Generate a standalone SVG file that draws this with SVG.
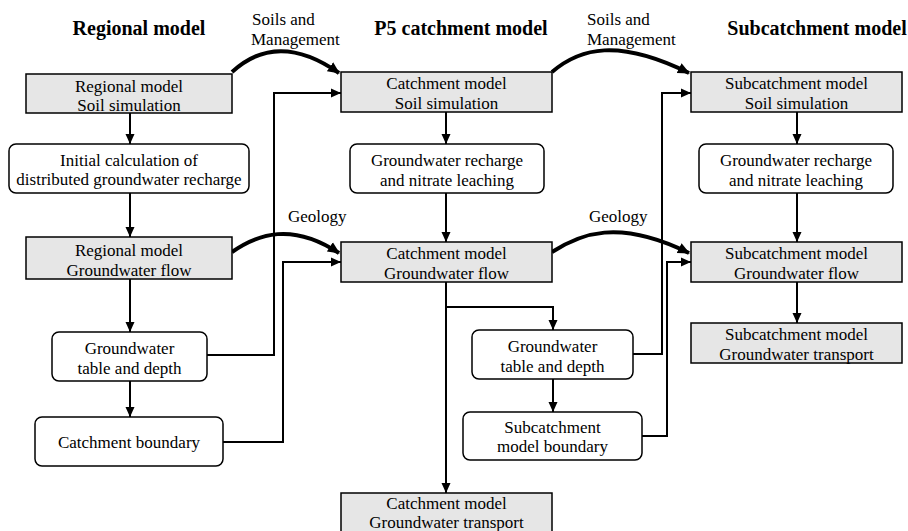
<svg xmlns="http://www.w3.org/2000/svg" width="908" height="531" viewBox="0 0 908 531">
  <defs>
    <style>
      text { font-family: "Liberation Serif", "Times New Roman", Times, Tinos, "DejaVu Serif", serif; fill: #000; }
      .title { font-size: 20px; font-weight: bold; text-anchor: middle; }
      .lbl { font-size: 17px; text-anchor: middle; }
      .tag { font-size: 17px; }
      .model { fill: #e6e6e6; stroke: #000; stroke-width: 1.5; }
      .step { fill: #fff; stroke: #000; stroke-width: 1.5; }
      .link { fill: none; stroke: #000; stroke-width: 2; marker-end: url(#head); }
      .bend { fill: none; stroke: #000; stroke-width: 2; marker-end: url(#head); stroke-linejoin: miter; }
      .transfer { fill: none; stroke: #000; stroke-width: 4; marker-end: url(#bighead); }
    </style>
    <marker id="head" markerUnits="userSpaceOnUse" markerWidth="10" markerHeight="10" viewBox="0 0 10 10" refX="10" refY="5" orient="auto">
      <path d="M0,0.5 L10,5 L0,9.5 Z" fill="#000"/>
    </marker>
    <marker id="bighead" markerUnits="userSpaceOnUse" markerWidth="12" markerHeight="12" viewBox="0 0 12 12" refX="11" refY="6" orient="auto">
      <path d="M0,0.5 L12,6 L0,11.5 Z" fill="#000"/>
    </marker>
  </defs>

  <rect width="908" height="531" fill="#fff"/>

  <!-- column titles -->
  <g id="titles" font-family="Liberation Serif, serif">
    <text class="title" x="139" y="35">Regional model</text>
    <text class="title" x="461" y="35">P5 catchment model</text>
    <text class="title" x="817" y="35">Subcatchment model</text>
  </g>

  <!-- connectors -->
  <g id="connectors">
    <!-- regional column -->
    <line class="link" x1="130" y1="113" x2="130" y2="144"/>
    <line class="link" x1="130" y1="193" x2="130" y2="237"/>
    <line class="link" x1="130" y1="279" x2="130" y2="332"/>
    <line class="link" x1="130" y1="381" x2="130" y2="417"/>
    <path class="bend" d="M207,355 H274 V93 H341"/>
    <path class="bend" d="M223,442 H283 V262 H341"/>

    <!-- catchment column -->
    <line class="link" x1="446" y1="112" x2="446" y2="144"/>
    <line class="link" x1="446" y1="193" x2="446" y2="242"/>
    <line class="link" x1="446" y1="282" x2="446" y2="493"/>
    <path class="bend" d="M446,307 H553 V330"/>
    <line class="link" x1="553" y1="379" x2="553" y2="412"/>
    <path class="bend" d="M633,354 H662 V93 H691"/>
    <path class="bend" d="M642,436 H667 V262 H691"/>

    <!-- subcatchment column -->
    <line class="link" x1="797" y1="112" x2="797" y2="144"/>
    <line class="link" x1="797" y1="193" x2="797" y2="242"/>
    <line class="link" x1="797" y1="282" x2="797" y2="323"/>

    <!-- data transfers between scales -->
    <path class="transfer" d="M232,72 C258,48 292,40 339,73"/>
    <path class="transfer" d="M552,72 C580,48 618,38 689,73"/>
    <path class="transfer" d="M232,252 C258,234 292,222 339,253"/>
    <path class="transfer" d="M552,252 C580,234 618,218 689,253"/>
  </g>

  <g id="transfer-labels">
    <text class="tag" x="252" y="25">Soils and</text>
    <text class="tag" x="251" y="45">Management</text>
    <text class="tag" x="587" y="25">Soils and</text>
    <text class="tag" x="587" y="45">Management</text>
    <text class="tag" x="288" y="222">Geology</text>
    <text class="tag" x="589" y="222">Geology</text>
  </g>

  <!-- regional model -->
  <g id="regional-soil">
    <rect class="model" x="26" y="74" width="206" height="39"/>
    <text class="lbl" x="129" y="92">Regional model</text>
    <text class="lbl" x="129" y="111">Soil simulation</text>
  </g>
  <g id="regional-recharge">
    <rect class="step" x="9" y="144" width="240" height="49" rx="7"/>
    <text class="lbl" x="129" y="166">Initial calculation of</text>
    <text class="lbl" x="129" y="185">distributed groundwater recharge</text>
  </g>
  <g id="regional-flow">
    <rect class="model" x="26" y="237" width="206" height="42"/>
    <text class="lbl" x="129" y="256">Regional model</text>
    <text class="lbl" x="129" y="276">Groundwater flow</text>
  </g>
  <g id="regional-table">
    <rect class="step" x="52" y="332" width="155" height="49" rx="7"/>
    <text class="lbl" x="129.5" y="354">Groundwater</text>
    <text class="lbl" x="129.5" y="374">table and depth</text>
  </g>
  <g id="catchment-boundary">
    <rect class="step" x="35" y="417" width="188" height="49" rx="7"/>
    <text class="lbl" x="129" y="448">Catchment boundary</text>
  </g>

  <!-- P5 catchment model -->
  <g id="catchment-soil">
    <rect class="model" x="341" y="72" width="211" height="40"/>
    <text class="lbl" x="446.5" y="89">Catchment model</text>
    <text class="lbl" x="446.5" y="109">Soil simulation</text>
  </g>
  <g id="catchment-recharge">
    <rect class="step" x="350" y="144" width="194" height="49" rx="7"/>
    <text class="lbl" x="447" y="166">Groundwater recharge</text>
    <text class="lbl" x="447" y="186">and nitrate leaching</text>
  </g>
  <g id="catchment-flow">
    <rect class="model" x="341" y="242" width="211" height="40"/>
    <text class="lbl" x="446.5" y="259">Catchment model</text>
    <text class="lbl" x="446.5" y="279">Groundwater flow</text>
  </g>
  <g id="catchment-table">
    <rect class="step" x="472" y="330" width="161" height="49" rx="7"/>
    <text class="lbl" x="552.5" y="352">Groundwater</text>
    <text class="lbl" x="552.5" y="372">table and depth</text>
  </g>
  <g id="subcatchment-boundary">
    <rect class="step" x="463" y="412" width="179" height="48" rx="7"/>
    <text class="lbl" x="552.5" y="433">Subcatchment</text>
    <text class="lbl" x="552.5" y="452">model boundary</text>
  </g>
  <g id="catchment-transport">
    <rect class="model" x="341" y="493" width="211" height="40"/>
    <text class="lbl" x="446.5" y="509">Catchment model</text>
    <text class="lbl" x="446.5" y="528">Groundwater transport</text>
  </g>

  <!-- subcatchment model -->
  <g id="subcatchment-soil">
    <rect class="model" x="691" y="72" width="211" height="40"/>
    <text class="lbl" x="796.5" y="89">Subcatchment model</text>
    <text class="lbl" x="796.5" y="109">Soil simulation</text>
  </g>
  <g id="subcatchment-recharge">
    <rect class="step" x="699" y="144" width="194" height="49" rx="7"/>
    <text class="lbl" x="796" y="166">Groundwater recharge</text>
    <text class="lbl" x="796" y="186">and nitrate leaching</text>
  </g>
  <g id="subcatchment-flow">
    <rect class="model" x="691" y="242" width="211" height="40"/>
    <text class="lbl" x="796.5" y="259">Subcatchment model</text>
    <text class="lbl" x="796.5" y="279">Groundwater flow</text>
  </g>
  <g id="subcatchment-transport">
    <rect class="model" x="691" y="323" width="211" height="40"/>
    <text class="lbl" x="796.5" y="340">Subcatchment model</text>
    <text class="lbl" x="796.5" y="360">Groundwater transport</text>
  </g>
</svg>
